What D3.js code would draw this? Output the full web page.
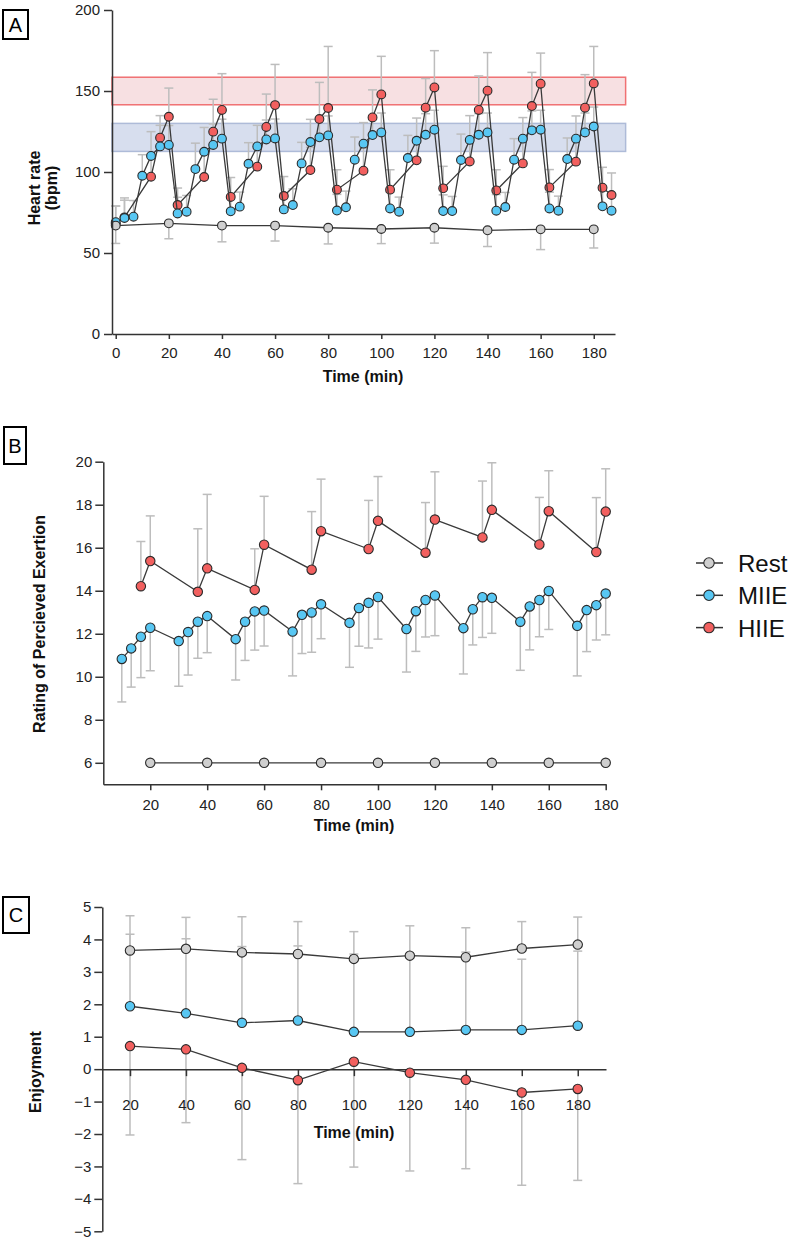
<!DOCTYPE html>
<html>
<head>
<meta charset="utf-8">
<script src="https://cdn.jsdelivr.net/npm/d3@7/dist/d3.min.js"></script>
<style>
  body { margin: 0; background: #fff; }
  svg { font-family: "Liberation Sans", Arial, sans-serif; }
  .tick text { font-size: 15px; fill: #222; }
  .domain, .tick line { stroke: #333; stroke-width: 1.5; }
  .title { font-size: 16px; font-weight: bold; fill: #111; }
  .legend text { font-size: 24px; fill: #111; }
</style>
</head>
<body>
<div id="chart"></div>
<script>
// ---- A: heart rate ----
var hrRestTime = [0, 20, 40, 60, 80, 100, 120, 140, 160, 180];
var hrRest     = [66.9, 68.3, 66.9, 66.9, 65.6, 64.8, 65.6, 64, 64.6, 64.6];
var hrRestSd   = [11, 9.5, 10, 9.5, 10, 9, 9.5, 10, 12.5, 11.5];

var hrMiieTime = [0, 3.3, 6.7, 10, 13.3, 16.7, 20,
  23.3, 26.7, 30, 33.3, 36.7, 40,  43.3, 46.7, 50, 53.3, 56.7, 60,
  63.3, 66.7, 70, 73.3, 76.7, 80,  83.3, 86.7, 90, 93.3, 96.7, 100,
  103.3, 106.7, 110, 113.3, 116.7, 120,  123.3, 126.7, 130, 133.3, 136.7, 140,
  143.3, 146.7, 150, 153.3, 156.7, 160,  163.3, 166.7, 170, 173.3, 176.7, 180,
  183.3, 186.7];
var hrMiie = [69, 71.6, 72.4, 97.7, 109.9, 115.8, 116.7,
  74.4, 75.5, 101.8, 112.5, 116.7, 120.6,  75.7, 78.6, 105.1, 115.8, 120.1, 120.7,
  76.9, 79.6, 105.3, 118.5, 121.4, 122.6,  76.2, 78.2, 107.6, 117.5, 122.8, 124.4,
  77.5, 75.5, 108.6, 119.3, 123, 126.1,  75.9, 75.9, 107.4, 119.8, 123, 124.4,
  76.1, 78.4, 107.6, 120.6, 125.7, 126.1,  77.5, 76.1, 108, 120.6, 124.4, 128.1,
  78.8, 76.1];
var hrMiieSd = [10, 11, 10, 13, 15, 13, 12,
  10, 10, 16, 15, 13, 12,  10, 9, 13, 13, 12, 12,
  10, 10, 13, 14, 12, 12,  10, 10, 14, 13, 12, 12,
  10, 9, 14, 14, 13, 12,  10, 9, 16, 15, 13, 12,
  10, 9, 13, 13, 12, 12,  10, 9, 13, 14, 12, 12,
  10, 10];

var hrHiieTime = [0, 3.3, 13.3, 16.7, 20,  23.3, 33.3, 36.7, 40,  43.3, 53.3, 56.7, 60,
  63.3, 73.3, 76.7, 80,  83.3, 93.3, 96.7, 100,  103.3, 113.3, 116.7, 120,
  123.3, 133.3, 136.7, 140,  143.3, 153.3, 156.7, 160,  163.3, 173.3, 176.7, 180,
  183.3, 186.7];
var hrHiie = [68, 72, 97.1, 121.2, 134.1,  79.6, 96.9, 124.9, 138.3,  84.6, 103.3, 127.8, 141.3,
  85.2, 101.2, 132.7, 139.5,  89.1, 100.8, 133.7, 147.9,  89.1, 107.2, 139.7, 152.2,
  89.9, 106.5, 138.3, 150.2,  88.6, 105.3, 140.7, 154.5,  90.5, 106.4, 139.7, 154.7,
  90.3, 85.8];
var hrHiieSd = [11, 12, 14, 13.6, 17.7,  10.5, 15, 20, 22.4,  12, 14, 20.3, 25.1,
  12, 14, 22.6, 38,  12.3, 14, 17, 23.5,  12.3, 14, 18, 22.7,
  13.6, 14, 21, 23.5,  12.8, 14, 20.8, 18.9,  11, 14, 20.4, 22.8,
  12.6, 13.6];

var hrHiieZone = [141.5, 158.5];
var hrMiieZone = [112.7, 130];
var hrTicksY = [0, 50, 100, 150, 200];
var timeTicksA = [0, 20, 40, 60, 80, 100, 120, 140, 160, 180];

// ---- B: RPE ----
var rpeRestTime = [20, 40, 60, 80, 100, 120, 140, 160, 180];
var rpeRest     = [6, 6, 6, 6, 6, 6, 6, 6, 6];

var rpeMiieTime = [10, 13.3, 16.7, 20, 30, 33.3, 36.7, 40, 50, 53.3, 56.7, 60,
  70, 73.3, 76.7, 80, 90, 93.3, 96.7, 100, 110, 113.3, 116.7, 120,
  130, 133.3, 136.7, 140, 150, 153.3, 156.7, 160, 170, 173.3, 176.7, 180];
var rpeMiie = [10.83, 11.32, 11.86, 12.28, 11.66, 12.08, 12.56, 12.82, 11.75, 12.56, 13.04, 13.08,
  12.1, 12.88, 12.99, 13.37, 12.51, 13.2, 13.44, 13.71, 12.22, 13.05, 13.57, 13.78,
  12.26, 13.14, 13.7, 13.67, 12.56, 13.27, 13.57, 13.99, 12.37, 13.1, 13.33, 13.87];
var rpeMiieSd = [2.0, 1.8, 1.9, 2.0, 2.1, 2.0, 1.7, 1.7, 1.9, 1.8, 1.8, 1.65,
  2.06, 1.8, 1.85, 1.6, 2.07, 1.78, 2.1, 1.96, 2.0, 1.87, 1.72, 1.87,
  2.13, 1.66, 1.87, 1.65, 2.26, 2.02, 1.71, 1.79, 2.33, 1.93, 1.62, 1.92];

var rpeHiieTime = [16.7, 20, 36.7, 40, 56.7, 60, 76.7, 80, 96.7, 100,
  116.7, 120, 136.7, 140, 156.7, 160, 176.7, 180];
var rpeHiie = [14.21, 15.38, 13.95, 15.04, 14.04, 16.14, 14.98, 16.77, 15.94, 17.25,
  15.77, 17.31, 16.48, 17.76, 16.15, 17.7, 15.8, 17.68];
var rpeHiieSd = [2.08, 2.1, 2.93, 3.44, 1.91, 2.25, 2.7, 2.42, 2.26, 2.06,
  2.33, 2.22, 2.62, 2.19, 2.19, 1.88, 2.53, 1.99];

var rpeTicksY = [6, 8, 10, 12, 14, 16, 18, 20];
var timeTicksB = [20, 40, 60, 80, 100, 120, 140, 160, 180];

// ---- C: enjoyment ----
var enjTime = [20, 40, 60, 80, 100, 120, 140, 160, 180];
var enjRest   = [3.66, 3.71, 3.6, 3.55, 3.4, 3.5, 3.45, 3.72, 3.84];
var enjRestSd = [1.07, 0.97, 1.1, 1.0, 0.84, 0.92, 0.91, 0.83, 0.85];
var enjMiie   = [1.94, 1.72, 1.43, 1.5, 1.15, 1.15, 1.21, 1.21, 1.34];
var enjMiieSd = [2.22, 2.3, 2.35, 2.3, 2.4, 2.4, 2.4, 2.18, 2.3];
var enjHiie   = [0.71, 0.61, 0.04, -0.34, 0.23, -0.11, -0.33, -0.72, -0.61];
var enjHiieSd = [2.74, 2.26, 2.83, 3.19, 3.25, 3.03, 2.74, 2.86, 2.82];
var enjTicksY = [-5, -4, -3, -2, -1, 0, 1, 2, 3, 4, 5];

var groups = ['Rest', 'MIIE', 'HIIE'];
var colors = { Rest: '#cfcfcf', MIIE: '#58c7f3', HIIE: '#f2605f' };

var svg = d3.select('#chart').append('svg')
  .attr('width', 790).attr('height', 1240);

// zip times, values and sd into point objects
function pts(t, v, sd) {
  return t.map(function (d, i) { return { t: d, v: v[i], sd: sd ? sd[i] : 0 }; });
}

function bars(g, x, y, data, dir) {
  var eb = g.append('g').attr('stroke', '#bdbdbd').attr('stroke-width', 1.5);
  data.forEach(function (d) {
    if (!d.sd) return;
    var y1 = y(d.v + dir * d.sd);
    eb.append('line').attr('x1', x(d.t)).attr('x2', x(d.t)).attr('y1', y(d.v)).attr('y2', y1);
    eb.append('line').attr('x1', x(d.t) - 4.5).attr('x2', x(d.t) + 4.5).attr('y1', y1).attr('y2', y1);
  });
}

function series(g, x, y, data, col, r) {
  g.append('path').datum(data)
    .attr('fill', 'none').attr('stroke', '#3a3a3a').attr('stroke-width', 1.3)
    .attr('d', d3.line().x(function (d) { return x(d.t); }).y(function (d) { return y(d.v); }));
  g.selectAll(null).data(data).enter().append('circle')
    .attr('cx', function (d) { return x(d.t); })
    .attr('cy', function (d) { return y(d.v); })
    .attr('r', r)
    .attr('fill', col).attr('stroke', '#2a2a2a').attr('stroke-width', 1.1);
}

function panelBox(x, y, w, h, label) {
  svg.append('rect').attr('x', x).attr('y', y).attr('width', w).attr('height', h)
    .attr('fill', 'none').attr('stroke', '#000').attr('stroke-width', 2);
  svg.append('text').attr('x', x + w / 2).attr('y', y + h / 2 + 7)
    .attr('text-anchor', 'middle').style('font-size', '20px').text(label);
}

function rotLabel(x, y, txt) {
  svg.append('text').attr('class', 'title')
    .attr('transform', 'translate(' + x + ',' + y + ') rotate(-90)')
    .attr('text-anchor', 'middle').text(txt);
}

// ================= Panel A =================
var xA = d3.scaleLinear().domain([-1.4, 188]).range([112, 615]);
var yA = d3.scaleLinear().domain([0, 200]).range([334, 10]);
var gA = svg.append('g');

[[hrHiieZone, '#f7e0e2', '#f07173'], [hrMiieZone, '#d7deee', '#aebbd8']].forEach(function (z) {
  gA.append('rect')
    .attr('x', xA(-1.4)).attr('width', xA(192) - xA(-1.4))
    .attr('y', yA(z[0][1])).attr('height', yA(z[0][0]) - yA(z[0][1]))
    .attr('fill', z[1]).attr('stroke', z[2]).attr('stroke-width', 1.5);
});

var aRest = pts(hrRestTime, hrRest, hrRestSd);
var aMiie = pts(hrMiieTime, hrMiie, hrMiieSd);
var aHiie = pts(hrHiieTime, hrHiie, hrHiieSd);
bars(gA, xA, yA, aHiie, 1);
bars(gA, xA, yA, aMiie, 1);
bars(gA, xA, yA, aRest, -1);
series(gA, xA, yA, aHiie, colors.HIIE, 4.4);
series(gA, xA, yA, aMiie, colors.MIIE, 4.4);
series(gA, xA, yA, aRest, colors.Rest, 4.4);

gA.append('g').attr('transform', 'translate(112,0)')
  .call(d3.axisLeft(yA).tickValues(hrTicksY).tickSize(8).tickPadding(4).tickSizeOuter(0));
gA.append('g').attr('transform', 'translate(0,334)')
  .call(d3.axisBottom(xA).tickValues(timeTicksA).tickSize(5).tickPadding(8).tickSizeOuter(0));
svg.append('text').attr('class', 'title').attr('x', 363).attr('y', 382)
  .attr('text-anchor', 'middle').text('Time (min)');
rotLabel(40, 188, 'Heart rate');
rotLabel(57, 188, '(bpm)');
panelBox(3, 10, 25, 29, 'A');

// ================= Panel B =================
var xB = d3.scaleLinear().domain([3.5, 180]).range([103.3, 605.7]);
var yB = d3.scaleLinear().domain([5, 20]).range([784.3, 461.7]);
var gB = svg.append('g');

var bRest = pts(rpeRestTime, rpeRest);
var bMiie = pts(rpeMiieTime, rpeMiie, rpeMiieSd);
var bHiie = pts(rpeHiieTime, rpeHiie, rpeHiieSd);
bars(gB, xB, yB, bMiie, -1);
bars(gB, xB, yB, bHiie, 1);
series(gB, xB, yB, bRest, colors.Rest, 4.7);
series(gB, xB, yB, bMiie, colors.MIIE, 4.7);
series(gB, xB, yB, bHiie, colors.HIIE, 4.7);

gB.append('g').attr('transform', 'translate(103.3,0)')
  .call(d3.axisLeft(yB).tickValues(rpeTicksY).tickSize(8).tickPadding(3).tickSizeOuter(0));
gB.append('g').attr('transform', 'translate(0,784.3)')
  .call(d3.axisBottom(xB).tickValues(timeTicksB).tickSize(6).tickPadding(9).tickSizeOuter(0));
svg.append('text').attr('class', 'title').attr('x', 354).attr('y', 831)
  .attr('text-anchor', 'middle').text('Time (min)');
rotLabel(45, 624, 'Rating of Percieved Exertion');
panelBox(4, 427, 22, 37, 'B');

// legend
var legend = svg.selectAll('.legend').data(groups).enter().append('g')
  .attr('class', 'legend')
  .attr('transform', function (d, i) { return 'translate(709,' + (563 + i * 32.3) + ')'; });
legend.append('line').attr('x1', -13).attr('x2', 14).attr('stroke', '#333').attr('stroke-width', 1.5);
legend.append('circle').attr('r', 5.2)
  .attr('fill', function (d) { return colors[d]; }).attr('stroke', '#2a2a2a').attr('stroke-width', 1.1);
legend.append('text').attr('x', 29).attr('y', 9).text(function (d) { return d; });

// ================= Panel C =================
var xC = d3.scaleLinear().domain([10.1, 190.1]).range([102.3, 606]);
var yC = d3.scaleLinear().domain([-5, 5]).range([1231.3, 907]);
var gC = svg.append('g');

var cRest = pts(enjTime, enjRest, enjRestSd);
var cMiie = pts(enjTime, enjMiie, enjMiieSd);
var cHiie = pts(enjTime, enjHiie, enjHiieSd);
bars(gC, xC, yC, cHiie, -1);
bars(gC, xC, yC, cMiie, 1);
bars(gC, xC, yC, cRest, 1);

gC.append('g').attr('transform', 'translate(102.3,0)')
  .call(d3.axisLeft(yC).tickValues(enjTicksY).tickSize(8).tickPadding(3).tickSizeOuter(0));
gC.append('g').attr('transform', 'translate(0,' + yC(0) + ')')
  .call(d3.axisBottom(xC).tickValues(timeTicksB).tickSize(7).tickPadding(23).tickSizeOuter(0));

series(gC, xC, yC, cHiie, colors.HIIE, 4.7);
series(gC, xC, yC, cMiie, colors.MIIE, 4.7);
series(gC, xC, yC, cRest, colors.Rest, 4.7);

svg.append('text').attr('class', 'title').attr('x', 354).attr('y', 1138)
  .attr('text-anchor', 'middle').text('Time (min)');
rotLabel(41, 1072, 'Enjoyment');
panelBox(3, 897, 26, 36, 'C');
</script>
</body>
</html>
